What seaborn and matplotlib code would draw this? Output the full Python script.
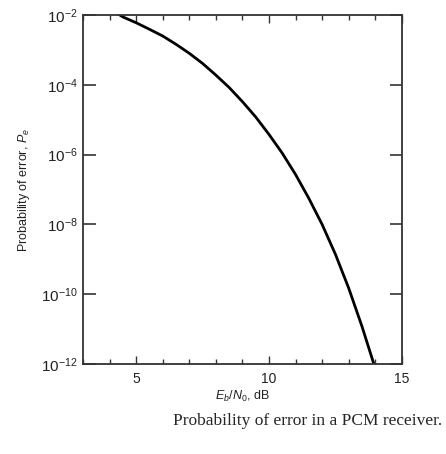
import numpy as np
import pandas as pd
import matplotlib
matplotlib.use("Agg")
import matplotlib.pyplot as plt
import matplotlib.ticker as mticker
import seaborn as sns

# values
ebn0_db = [4.3, 4.5, 5.0, 5.5, 6.0, 6.5, 7.0, 7.5, 8.0, 8.5, 9.0, 9.5,
           10.0, 10.5, 11.0, 11.5, 12.0, 12.5, 13.0, 13.5, 14.0]
p_error = [1.1e-2, 8.8e-3, 6.0e-3, 3.9e-3, 2.5e-3, 1.45e-3, 8.0e-4, 4.1e-4,
           1.9e-4, 8.4e-5, 3.3e-5, 1.2e-5, 3.8e-6, 1.1e-6, 2.7e-7, 5.6e-8,
           1.0e-8, 1.4e-9, 1.5e-10, 1.2e-11, 7.5e-13]
y_ticks = [1e-2, 1e-4, 1e-6, 1e-8, 1e-10, 1e-12]
y_tick_labels = [r"$10^{-2}$", r"$10^{-4}$", r"$10^{-6}$", r"$10^{-8}$",
                 r"$10^{-10}$", r"$10^{-12}$"]
x_major = [5, 10, 15]

df = pd.DataFrame({"ebn0": ebn0_db, "pe": p_error})

sns.set_style("ticks")
plt.rcParams["font.family"] = ["Liberation Sans", "DejaVu Sans"]
plt.rcParams["mathtext.fontset"] = "custom"
plt.rcParams["mathtext.rm"] = "Liberation Sans"
plt.rcParams["mathtext.it"] = "Liberation Sans:italic"

fig = plt.figure(figsize=(4.46, 4.54), dpi=100)
ax = fig.add_axes([0.186, 0.198, 0.715, 0.769])

sns.lineplot(data=df, x="ebn0", y="pe", color="black", linewidth=2.0, ax=ax)
ax.set_yscale("log")
ax.set_xlim(3, 15)
ax.set_ylim(1e-12, 1e-2)

ax.set_yticks(y_ticks)
ax.set_yticklabels(y_tick_labels, fontsize=11, color="#222222")
ax.yaxis.set_minor_locator(mticker.NullLocator())
ax.set_xticks(x_major)
ax.set_xticklabels([str(v) for v in x_major], fontsize=10, color="#222222")
ax.xaxis.set_minor_locator(mticker.MultipleLocator(1))

ax.tick_params(axis="y", which="major", direction="in", length=9, width=1.2,
               left=True, right=True, color="#333333", pad=4)
ax.tick_params(axis="x", which="major", direction="in", length=6, width=1.0,
               top=True, bottom=True, color="#333333", pad=6)
ax.tick_params(axis="x", which="minor", direction="in", length=3.5, width=1.0,
               top=True, bottom=True, color="#333333")

for s in ax.spines.values():
    s.set_color("#333333")
    s.set_linewidth(1.3)

ax.set_xlabel(r"$E_b/N_0$, dB", fontsize=9, color="#222222", labelpad=2)
ax.set_ylabel(r"Probability of error, $P_e$", fontsize=9, color="#222222",
              labelpad=6)

fig.text(0.69, 0.073, "Probability of error in a PCM receiver.",
         fontsize=12.5, family="Liberation Serif", ha="center", va="center")

fig.savefig("out.png", dpi=100)
